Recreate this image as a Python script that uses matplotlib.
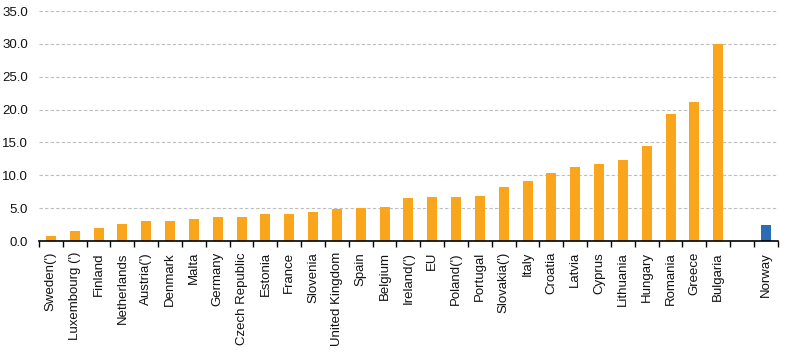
import numpy as np
import matplotlib.pyplot as plt

plt.rcParams['font.family'] = ['Liberation Sans', 'DejaVu Sans']

countries = ["Sweden(')", "Luxembourg (')", "Finland", "Netherlands", "Austria(')",
             "Denmark", "Malta", "Germany", "Czech Republic", "Estonia", "France",
             "Slovenia", "United Kingdom", "Spain", "Belgium", "Ireland(')", "EU",
             "Poland(')", "Portugal", "Slovakia(')", "Italy", "Croatia", "Latvia",
             "Cyprus", "Lithuania", "Hungary", "Romania", "Greece", "Bulgaria"]
values = [0.8, 1.5, 2.0, 2.6, 3.0, 3.0, 3.4, 3.7, 3.7, 4.1, 4.1,
          4.4, 4.8, 5.0, 5.2, 6.5, 6.7, 6.7, 6.9, 8.2, 9.1, 10.3, 11.2,
          11.7, 12.3, 14.4, 19.3, 21.1, 30.0]
other = ["Norway"]
other_values = [2.4]

orange = '#f9a61c'
blue = '#2a6db5'

fig = plt.figure(figsize=(7.86, 3.56), dpi=100)
ax = fig.add_axes([0.0496, 0.323, 0.940, 0.646])

x1 = np.arange(len(countries))
x2 = np.arange(len(other)) + len(countries) + 1
ax.bar(x1, values, width=0.42, color=orange, zorder=2)
ax.bar(x2, other_values, width=0.42, color=blue, zorder=2)

ax.set_xlim(-0.5, x2[-1] + 0.5)
ax.set_ylim(0, 35)
ax.set_yticks(np.arange(0, 36, 5))
ax.set_yticklabels([f"{v:.1f}" for v in np.arange(0, 36, 5)])
ax.yaxis.grid(True, linestyle=(0, (3, 2)), color='#bdbdbd', linewidth=0.8, zorder=0)
ax.set_axisbelow(True)

ticks = list(x1) + list(x2)
ax.set_xticks(ticks)
ax.set_xticklabels(countries + other, rotation=90, va='top', ha='center')
ax.set_xticks(np.arange(-0.5, x2[-1] + 1, 1), minor=True)
ax.tick_params(axis='x', which='major', length=0, pad=8, labelsize=9.5, colors='#111111')
ax.tick_params(axis='x', which='minor', length=4, width=1, direction='out', color='black')
ax.tick_params(axis='y', length=0, pad=8, labelsize=9.5, colors='#111111')

for s in ['top', 'right', 'left']:
    ax.spines[s].set_visible(False)
ax.spines['bottom'].set_linewidth(1.2)

fig.savefig('out.png', dpi=100)
